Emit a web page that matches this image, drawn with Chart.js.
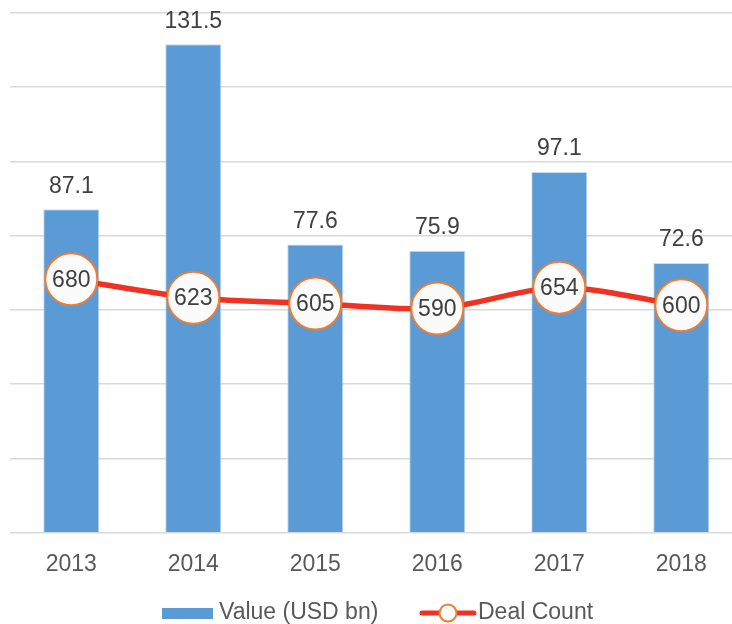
<!DOCTYPE html>
<html>
<head>
<meta charset="utf-8">
<script src="https://cdn.jsdelivr.net/npm/chart.js@4/dist/chart.umd.min.js"></script>
<style>
  html, body { margin: 0; padding: 0; background: #ffffff; overflow: hidden; }
  #wrap { width: 743px; height: 624px; }
</style>
</head>
<body>
<div id="wrap"><canvas id="c" width="743" height="624"></canvas></div>
<script>
const categories = ['2013', '2014', '2015', '2016', '2017', '2018'];
const valueUsdBn = [87.1, 131.5, 77.6, 75.9, 97.1, 72.6];
const dealCount = [680, 623, 605, 590, 654, 600];
const seriesNames = ['Value (USD bn)', 'Deal Count'];

const FONT = '"Liberation Sans", Arial, sans-serif';
const BLUE = '#5B9BD5';
const RED = '#EE3224';
const ORANGE = '#ED7D31';
const TXT = '#404040';
const TXT2 = '#595959';

const labelsPlugin = {
  id: 'valueLabels',
  afterDatasetsDraw(chart) {
    const ctx = chart.ctx;
    ctx.save();
    ctx.font = '23px ' + FONT;
    ctx.textAlign = 'center';
    ctx.textBaseline = 'middle';
    const barMeta = chart.getDatasetMeta(0);
    barMeta.data.forEach((el, i) => {
      ctx.fillStyle = TXT;
      ctx.fillText(String(valueUsdBn[i]), el.x, el.y - 23);
    });
    const lineMeta = chart.getDatasetMeta(1);
    lineMeta.data.forEach((el, i) => {
      ctx.fillStyle = TXT;
      ctx.fillText(String(dealCount[i]), el.x, el.y + 1);
    });
    ctx.restore();
  }
};

const legendPlugin = {
  id: 'customLegend',
  afterDraw(chart) {
    const ctx = chart.ctx;
    const y = 613;
    ctx.save();
    ctx.fillStyle = BLUE;
    ctx.fillRect(162, 608, 51, 11);
    ctx.font = '23px ' + FONT;
    ctx.fillStyle = TXT2;
    ctx.textAlign = 'left';
    ctx.textBaseline = 'middle';
    ctx.fillText(seriesNames[0], 219, y);
    ctx.strokeStyle = RED;
    ctx.lineWidth = 5;
    ctx.lineCap = 'round';
    ctx.beginPath();
    ctx.moveTo(422, y);
    ctx.lineTo(474, y);
    ctx.stroke();
    ctx.beginPath();
    ctx.arc(448, y, 8.5, 0, Math.PI * 2);
    ctx.fillStyle = '#ffffff';
    ctx.fill();
    ctx.lineWidth = 2;
    ctx.strokeStyle = ORANGE;
    ctx.stroke();
    ctx.fillStyle = TXT2;
    ctx.fillText(seriesNames[1], 478, y);
    ctx.restore();
  }
};

new Chart(document.getElementById('c'), {
  data: {
    labels: categories,
    datasets: [
      {
        type: 'bar',
        label: seriesNames[0],
        data: valueUsdBn,
        backgroundColor: BLUE,
        borderColor: 'rgba(190,215,240,0.9)',
        borderWidth: 1,
        barPercentage: 0.46,
        categoryPercentage: 1.0,
        yAxisID: 'y',
        order: 1
      },
      {
        type: 'line',
        label: seriesNames[1],
        data: dealCount,
        borderColor: RED,
        borderWidth: 5.5,
        tension: 0.3,
        pointRadius: 26,
        pointHoverRadius: 26,
        pointBackgroundColor: '#fbfbfb',
        pointBorderColor: ORANGE,
        pointBorderWidth: 2,
        yAxisID: 'y1',
        order: 0,
        clip: false
      }
    ]
  },
  options: {
    responsive: false,
    animation: false,
    devicePixelRatio: 1,
    layout: { autoPadding: false, padding: { left: 10.3, right: 0.7, top: 12.7, bottom: 0 } },
    plugins: {
      legend: { display: false },
      tooltip: { enabled: false }
    },
    scales: {
      x: {
        offset: true,
        grid: { display: false },
        border: { display: false },
        ticks: {
          color: TXT2,
          font: { family: FONT, size: 23 },
          padding: 10
        },
        afterFit(axis) {
          axis.height = 91.3;
          axis.paddingLeft = 0; axis.paddingRight = 0;
          axis.paddingTop = 0; axis.paddingBottom = 0;
        }
      },
      y: {
        min: 0,
        max: 140,
        ticks: { display: false, stepSize: 20 },
        grid: { color: '#d9d9d9', lineWidth: 1.5, drawTicks: false },
        border: { display: false },
        afterFit(axis) {
          axis.width = 0;
          axis.paddingLeft = 0; axis.paddingRight = 0;
          axis.paddingTop = 0; axis.paddingBottom = 0;
        }
      },
      y1: {
        display: false,
        min: -100,
        max: 1500
      }
    }
  },
  plugins: [labelsPlugin, legendPlugin]
});
</script>
</body>
</html>
